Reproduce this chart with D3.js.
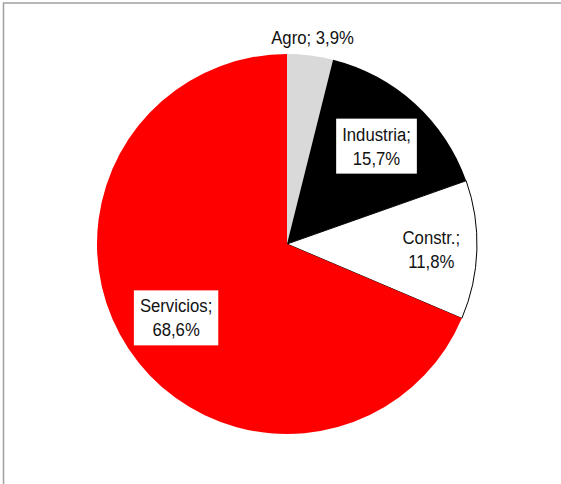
<!DOCTYPE html>
<html>
<head>
<meta charset="utf-8">
<script src="https://cdn.jsdelivr.net/npm/d3@7"></script>
<style>
  html, body { margin: 0; padding: 0; background: #fff; }
  svg { display: block; }
</style>
</head>
<body>
<svg id="chart"></svg>
<script>
const sectors = ['Agro', 'Industria', 'Constr.', 'Servicios'];
const shares = [3.9, 15.7, 11.8, 68.6];
const fills = ['#d9d9d9', '#000000', '#ffffff', '#ff0000'];

const width = 561;
const height = 484;
const cx = 287, cy = 244, radius = 190;
// label distance from centre, as a fraction of the radius
const labelR = [1.1, 0.7, 0.76, 0.7];
const squeeze = 0.88; // labels are drawn slightly condensed

const svg = d3.select('#chart')
  .attr('width', width)
  .attr('height', height);

// chart frame (runs off the right and bottom of the picture)
svg.append('path')
  .attr('d', `M3.5,${height + 5} V3 H${width + 5}`)
  .style('fill', 'none')
  .style('stroke', '#a0a0a0')
  .style('stroke-width', 1.5);

const pie = d3.pie().sort(null).value(d => d);
const arcs = pie(shares);

const arc = d3.arc().innerRadius(0).outerRadius(radius);

const g = svg.append('g')
  .attr('transform', 'translate(' + cx + ',' + cy + ')');

g.selectAll('path.slice')
  .data(arcs)
  .enter()
  .append('path')
  .attr('class', 'slice')
  .attr('d', arc)
  .style('fill', (d, i) => fills[i])
  .style('stroke', (d, i) => fills[i] === '#ffffff' ? '#000' : 'none')
  .style('stroke-width', 1);

const fmt = v => d3.format('.1f')(v).replace('.', ',') + '%';

const labels = g.selectAll('g.label')
  .data(arcs)
  .enter()
  .append('g')
  .attr('class', 'label')
  .attr('transform', (d, i) => {
    const a = (d.startAngle + d.endAngle) / 2;
    const r = radius * labelR[i];
    return 'translate(' + (r * Math.sin(a)) + ',' + (-r * Math.cos(a)) + ')';
  });

labels.each(function (d, i) {
  const lg = d3.select(this);
  const lines = i === 0 ? [sectors[i] + '; ' + fmt(shares[i])] : [sectors[i] + ';', fmt(shares[i])];
  const lh = 24;
  const t = lg.append('text')
    .attr('text-anchor', 'middle')
    .attr('transform', 'scale(' + squeeze + ',1)')
    .style('font-family', '"Liberation Sans", Arial, sans-serif')
    .style('font-size', '19px')
    .style('fill', '#111');
  lines.forEach((s, k) => {
    t.append('tspan')
      .attr('x', 0)
      .attr('y', (k - (lines.length - 1) / 2) * lh + 7)
      .text(s);
  });
  if (i === 1 || i === 3) {
    const bb = t.node().getBBox();
    const w = bb.width * squeeze;
    lg.insert('rect', 'text')
      .attr('x', -w / 2 - 6)
      .attr('y', -27)
      .attr('width', w + 12)
      .attr('height', 55)
      .style('fill', '#fff');
  }
});
</script>
</body>
</html>
